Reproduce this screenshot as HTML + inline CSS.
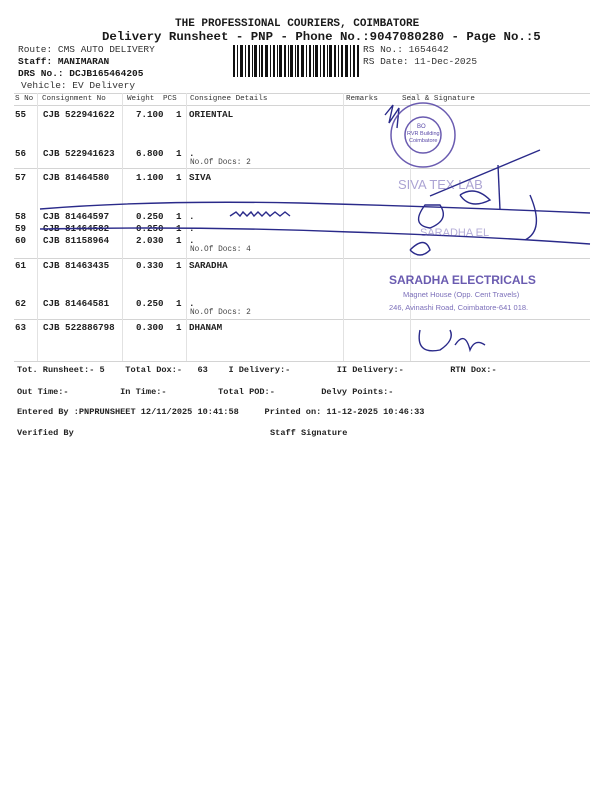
<!DOCTYPE html>
<html><head><meta charset="utf-8"><style>
html,body{margin:0;padding:0;background:#fff;}
body{width:600px;height:800px;position:relative;overflow:hidden;font-family:"Liberation Mono",monospace;color:#1a1a1a;}
.t{position:absolute;white-space:pre;line-height:1;}
.d{font-size:9.2px;font-weight:bold;color:#222;}
.h{font-size:7.6px;color:#333;}
.s{font-size:7.8px;color:#444;}
.f{font-size:8.6px;font-weight:bold;color:#222;}
.hl{position:absolute;height:1px;background:#d4d4d4;}
.vl{position:absolute;width:1px;background:#e2e2e2;}
.w{left:136px;}
</style></head><body>
<div class="t" style="left:175px;top:19px;font-size:11px;font-weight:bold;">THE PROFESSIONAL COURIERS, COIMBATORE</div>
<div class="t" style="left:102px;top:31px;font-size:12.4px;font-weight:bold;">Delivery Runsheet - PNP - Phone No.:9047080280 - Page No.:5</div>
<div class="t" style="left:18px;top:45px;font-size:9.5px;color:#333;">Route: CMS AUTO DELIVERY</div>
<div class="t" style="left:18px;top:57px;font-size:9.5px;font-weight:bold;">Staff: MANIMARAN</div>
<div class="t" style="left:18px;top:69px;font-size:9.5px;font-weight:bold;">DRS No.: DCJB165464205</div>
<div class="t" style="left:21px;top:81px;font-size:9.5px;color:#333;">Vehicle: EV Delivery</div>
<div class="t" style="left:363px;top:45px;font-size:9.5px;color:#333;">RS No.: 1654642</div>
<div class="t" style="left:363px;top:57px;font-size:9.5px;color:#333;">RS Date: 11-Dec-2025</div>
<svg style="position:absolute;left:233px;top:45px" width="127" height="32">
<g fill="#111">
<rect x="0" y="0" width="2" height="32"/><rect x="4" y="0" width="1" height="32"/><rect x="7" y="0" width="3" height="32"/><rect x="12" y="0" width="1" height="32"/><rect x="15" y="0" width="2" height="32"/><rect x="19" y="0" width="1" height="32"/><rect x="21" y="0" width="3" height="32"/><rect x="26" y="0" width="1" height="32"/><rect x="28" y="0" width="2" height="32"/><rect x="32" y="0" width="3" height="32"/><rect x="37" y="0" width="1" height="32"/><rect x="40" y="0" width="2" height="32"/><rect x="44" y="0" width="1" height="32"/><rect x="46" y="0" width="3" height="32"/><rect x="51" y="0" width="2" height="32"/><rect x="55" y="0" width="1" height="32"/><rect x="57" y="0" width="3" height="32"/><rect x="62" y="0" width="1" height="32"/><rect x="64" y="0" width="2" height="32"/><rect x="68" y="0" width="3" height="32"/><rect x="73" y="0" width="1" height="32"/><rect x="76" y="0" width="2" height="32"/><rect x="80" y="0" width="1" height="32"/><rect x="82" y="0" width="3" height="32"/><rect x="87" y="0" width="1" height="32"/><rect x="90" y="0" width="2" height="32"/><rect x="94" y="0" width="1" height="32"/><rect x="96" y="0" width="3" height="32"/><rect x="101" y="0" width="2" height="32"/><rect x="105" y="0" width="1" height="32"/><rect x="108" y="0" width="2" height="32"/><rect x="112" y="0" width="3" height="32"/><rect x="117" y="0" width="1" height="32"/><rect x="120" y="0" width="2" height="32"/><rect x="124" y="0" width="2" height="32"/>
</g></svg>

<div class="hl" style="left:14px;top:93px;width:576px;"></div>
<div class="hl" style="left:14px;top:105px;width:576px;"></div>
<div class="hl" style="left:14px;top:168px;width:576px;"></div>
<div class="hl" style="left:14px;top:258px;width:576px;"></div>
<div class="hl" style="left:14px;top:319px;width:576px;"></div>
<div class="hl" style="left:14px;top:361px;width:576px;"></div>
<div class="vl" style="left:37px;top:93px;height:268px;"></div>
<div class="vl" style="left:122px;top:93px;height:268px;"></div>
<div class="vl" style="left:186px;top:93px;height:268px;"></div>
<div class="vl" style="left:343px;top:93px;height:268px;"></div>
<div class="vl" style="left:410px;top:93px;height:268px;"></div>

<div class="t h" style="left:15px;top:96px;">S No</div>
<div class="t h" style="left:42px;top:96px;">Consignment No</div>
<div class="t h" style="left:127px;top:96px;">Weight</div>
<div class="t h" style="left:163px;top:96px;">PCS</div>
<div class="t h" style="left:190px;top:96px;">Consignee Details</div>
<div class="t h" style="left:346px;top:96px;">Remarks</div>
<div class="t h" style="left:402px;top:96px;">Seal &amp; Signature</div>

<div class="t d" style="left:15px;top:110px;">55</div><div class="t d" style="left:43px;top:110px;">CJB 522941622</div><div class="t d w" style="top:110px;">7.100</div><div class="t d" style="left:176px;top:110px;">1</div><div class="t d" style="left:189px;top:110px;">ORIENTAL</div>
<div class="t d" style="left:15px;top:149px;">56</div><div class="t d" style="left:43px;top:149px;">CJB 522941623</div><div class="t d w" style="top:149px;">6.800</div><div class="t d" style="left:176px;top:149px;">1</div><div class="t d" style="left:189px;top:149px;">.</div>
<div class="t s" style="left:190px;top:160px;">No.Of Docs: 2</div>
<div class="t d" style="left:15px;top:173px;">57</div><div class="t d" style="left:43px;top:173px;">CJB 81464580</div><div class="t d w" style="top:173px;">1.100</div><div class="t d" style="left:176px;top:173px;">1</div><div class="t d" style="left:189px;top:173px;">SIVA</div>
<div class="t d" style="left:15px;top:212px;">58</div><div class="t d" style="left:43px;top:212px;">CJB 81464597</div><div class="t d w" style="top:212px;">0.250</div><div class="t d" style="left:176px;top:212px;">1</div><div class="t d" style="left:189px;top:212px;">.</div>
<div class="t d" style="left:15px;top:224px;">59</div><div class="t d" style="left:43px;top:224px;">CJB 81464582</div><div class="t d w" style="top:224px;">0.250</div><div class="t d" style="left:176px;top:224px;">1</div><div class="t d" style="left:189px;top:224px;">.</div>
<div class="t d" style="left:15px;top:236px;">60</div><div class="t d" style="left:43px;top:236px;">CJB 81158964</div><div class="t d w" style="top:236px;">2.030</div><div class="t d" style="left:176px;top:236px;">1</div><div class="t d" style="left:189px;top:236px;">.</div>
<div class="t s" style="left:190px;top:247px;">No.Of Docs: 4</div>
<div class="t d" style="left:15px;top:261px;">61</div><div class="t d" style="left:43px;top:261px;">CJB 81463435</div><div class="t d w" style="top:261px;">0.330</div><div class="t d" style="left:176px;top:261px;">1</div><div class="t d" style="left:189px;top:261px;">SARADHA</div>
<div class="t d" style="left:15px;top:299px;">62</div><div class="t d" style="left:43px;top:299px;">CJB 81464581</div><div class="t d w" style="top:299px;">0.250</div><div class="t d" style="left:176px;top:299px;">1</div><div class="t d" style="left:189px;top:299px;">.</div>
<div class="t s" style="left:190px;top:310px;">No.Of Docs: 2</div>
<div class="t d" style="left:15px;top:323px;">63</div><div class="t d" style="left:43px;top:323px;">CJB 522886798</div><div class="t d w" style="top:323px;">0.300</div><div class="t d" style="left:176px;top:323px;">1</div><div class="t d" style="left:189px;top:323px;">DHANAM</div>

<svg style="position:absolute;left:0;top:0" width="600" height="800">
<g fill="none" stroke="#2a2a8a" stroke-width="1.4">
<path d="M40 209 Q150 200 300 203 Q450 207 590 213"/>
<path d="M40 229 Q200 226 350 232 Q480 236 590 244"/>
<path d="M230 216 l6 -4 l4 4 l3 -4 l4 4 l4 -4 l3 4 l4 -4 l4 4 l4 -4 l4 4 l5 -4 l5 4 l5 -4 l5 4"/>
<path d="M385 115 l8 -10 l-4 18 l10 -15 l-2 20"/>
<path d="M430 196 Q480 175 540 150"/>
<path d="M425 205 Q410 225 430 228 Q450 220 440 205 Z"/>
<path d="M460 195 Q475 185 490 200 Q470 210 460 195"/>
<path d="M498 165 L500 210"/>
<path d="M530 195 Q545 230 525 240"/>
<path d="M410 250 Q425 235 430 250 Q420 260 410 250"/>
<path d="M420 330 Q415 355 440 350 Q455 340 450 330 M455 345 Q465 330 470 350 Q475 338 485 345"/>
</g>
<g fill="none" stroke="#5a4aa8" stroke-width="1.5" opacity="0.9">
<circle cx="423" cy="135" r="32"/><circle cx="423" cy="135" r="18"/>
</g>
<g font-family="Liberation Sans,sans-serif" fill="#5a4aa8">
<text x="417" y="128" font-size="6">BO</text>
<text x="407" y="135" font-size="5.5">RVR Building</text>
<text x="409" y="142" font-size="5.5">Coimbatore</text>
<text x="398" y="189" font-size="13" opacity="0.5">SIVA TEX LAB</text>
<text x="420" y="236" font-size="11" opacity="0.45">SARADHA EL</text>
<text x="389" y="284" font-size="12" font-weight="bold" opacity="0.9">SARADHA ELECTRICALS</text>
<text x="403" y="297" font-size="7.5" opacity="0.8">Magnet House (Opp. Cent Travels)</text>
<text x="389" y="310" font-size="7.5" opacity="0.8">246, Avinashi Road, Coimbatore-641 018.</text>
</g>
</svg>

<div class="t f" style="left:17px;top:366px;">Tot. Runsheet:- 5    Total Dox:-   63    I Delivery:-         II Delivery:-         RTN Dox:-</div>
<div class="t f" style="left:17px;top:388px;">Out Time:-          In Time:-          Total POD:-         Delvy Points:-</div>
<div class="t f" style="left:17px;top:408px;">Entered By :PNPRUNSHEET 12/11/2025 10:41:58     Printed on: 11-12-2025 10:46:33</div>
<div class="t f" style="left:17px;top:429px;">Verified By</div>
<div class="t f" style="left:270px;top:429px;">Staff Signature</div>
</body></html>
